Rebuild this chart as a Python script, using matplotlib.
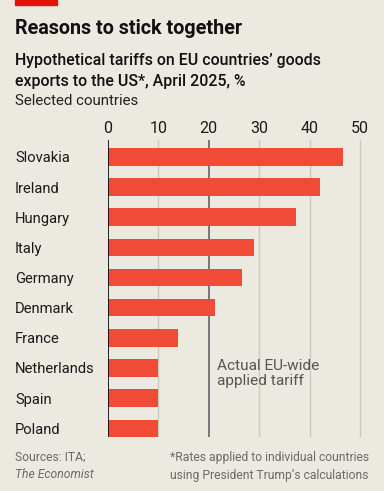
import matplotlib.pyplot as plt
from matplotlib.patches import Rectangle

countries = ["Slovakia", "Ireland", "Hungary", "Italy", "Germany",
             "Denmark", "France", "Netherlands", "Spain", "Poland"]
tariffs = [46.7, 42.1, 37.3, 28.9, 26.5, 21.3, 13.8, 10, 10, 10]
ticks = [0, 10, 20, 30, 40, 50]
eu_tariff = 20

bg = "#ece9e1"
red = "#ef4b36"
plt.rcParams["font.family"] = ["Roboto", "DejaVu Sans"]

fig = plt.figure(figsize=(3.84, 4.91), dpi=100, facecolor=bg)
ax = fig.add_axes([108/384, 1 - 437/491, (370 - 108)/384, (437 - 140)/491])
ax.set_facecolor(bg)

y = list(range(len(countries)))
ax.barh(y, tariffs, height=0.58, color=red, zorder=3)

ax.set_xlim(0, 52)
ax.set_ylim(9.29, -0.56)

# gridlines
for t in ticks[1:]:
    if t == eu_tariff:
        ax.axvline(t, color="#6e6e6e", lw=1.3, zorder=2)
    else:
        ax.axvline(t, color="#cbc8c0", lw=1.0, zorder=1)
ax.axvline(0, color="#111111", lw=1.3, zorder=4)

for s in ax.spines.values():
    s.set_visible(False)

ax.xaxis.tick_top()
ax.set_xticks(ticks)
ax.tick_params(axis="x", length=0, pad=3, labelsize=11.5, labelcolor="#1a1a1a")
ax.set_yticks(y)
ax.set_yticklabels(countries)
ax.tick_params(axis="y", length=0, pad=93 * 72 / 100, labelsize=10.6, labelcolor="#1a1a1a")
for lab in ax.get_yticklabels():
    lab.set_horizontalalignment("left")

ax.text(21.6, 6.7, "Actual EU-wide\napplied tariff", fontsize=11.1, color="#555555",
        va="top", ha="left", linespacing=1.12)

# header
fig.patches.append(Rectangle((15/384, 1 - 5/491), 42/384, 5/491, transform=fig.transFigure,
                             color="#e3120b"))
fig.text(15/384, 1 - 29/491, "Reasons to stick together", fontsize=14.2, fontweight="bold",
         color="#111111", va="center")
fig.text(15/384, 1 - 61/491, "Hypothetical tariffs on EU countries\u2019 goods", fontsize=11.4,
         color="#111111", va="center", fontweight="medium")
fig.text(15/384, 1 - 81/491, "exports to the US*, April 2025, %", fontsize=11.4,
         color="#111111", va="center", fontweight="medium")
fig.text(15/384, 1 - 101/491, "Selected countries", fontsize=10.8, color="#222222", va="center")

# footer
fig.text(15/384, 1 - 457/491, "Sources: ITA;", fontsize=8.7, color="#6a6a6a", va="center")
fig.text(15/384, 1 - 475/491, "The Economist", fontsize=8.7, color="#6a6a6a", va="center",
         style="italic")
fig.text(369/384, 1 - 457/491, "*Rates applied to individual countries", fontsize=8.7,
         color="#6a6a6a", va="center", ha="right")
fig.text(369/384, 1 - 475/491, "using President Trump\u2019s calculations", fontsize=8.7,
         color="#6a6a6a", va="center", ha="right")

fig.savefig("out.png", dpi=100, facecolor=bg)
